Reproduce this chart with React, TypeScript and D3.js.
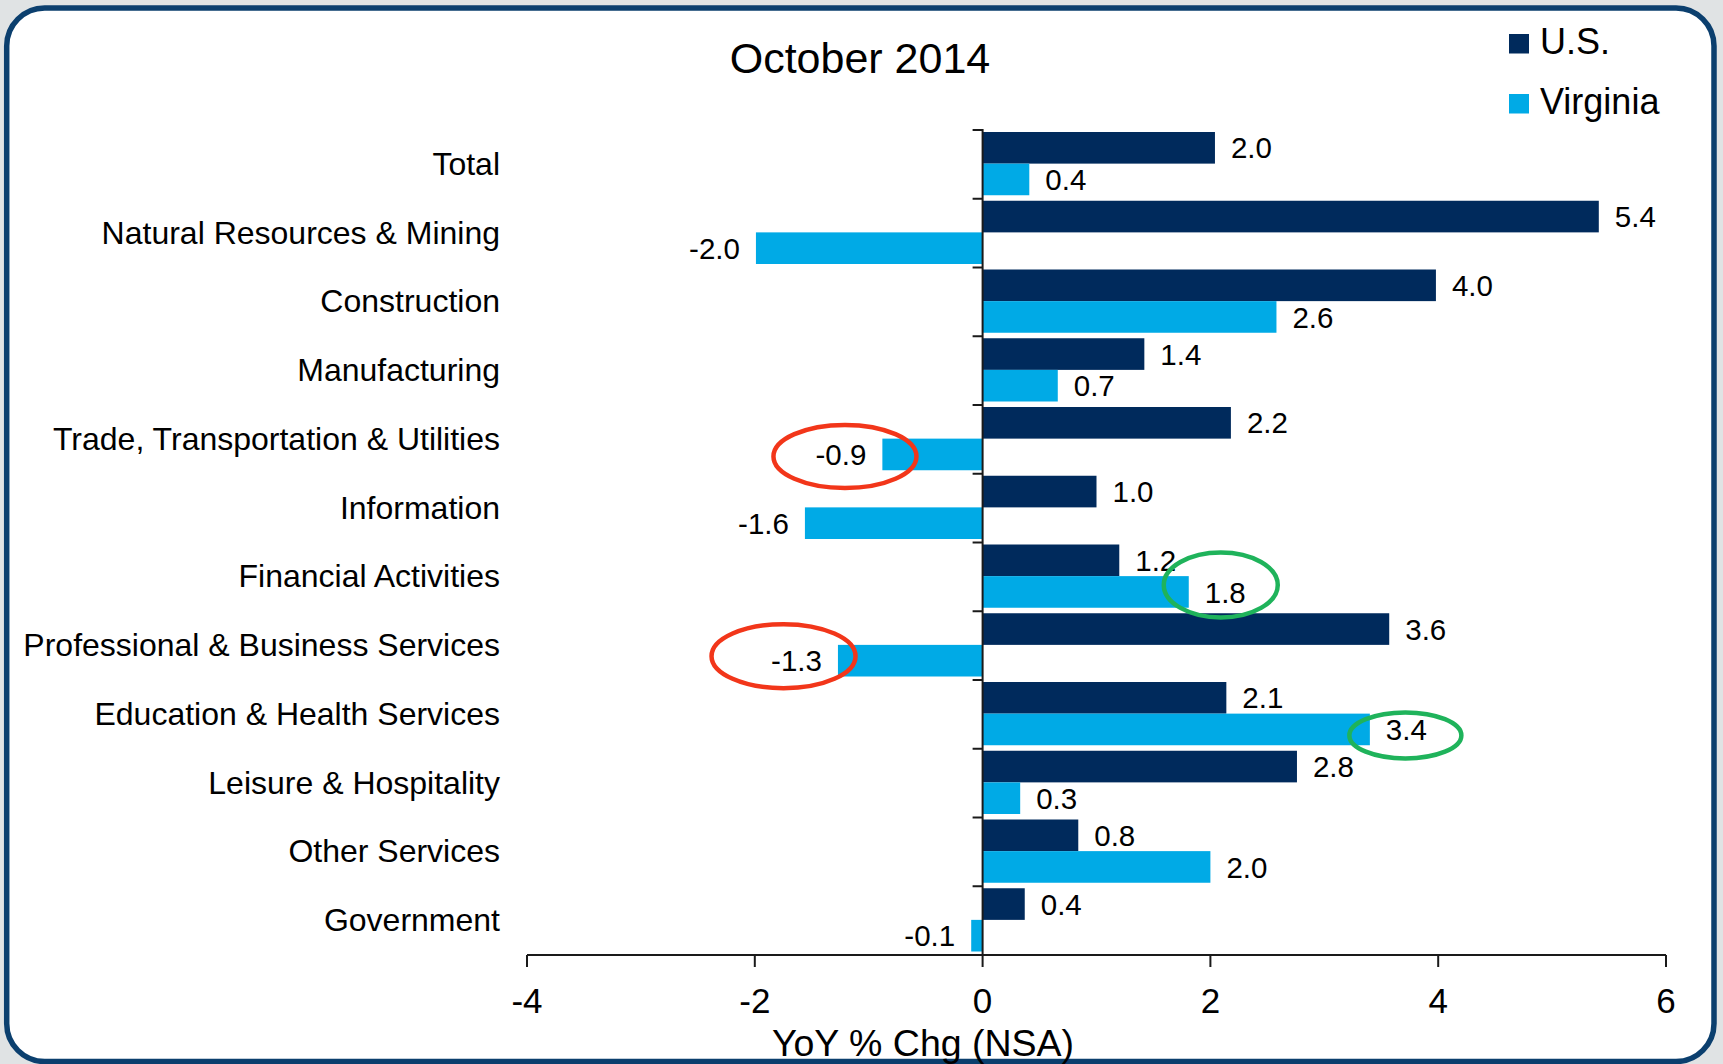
import React from "react";
import * as d3 from "d3";

const categories = [
  "Total",
  "Natural Resources & Mining",
  "Construction",
  "Manufacturing",
  "Trade, Transportation & Utilities",
  "Information",
  "Financial Activities",
  "Professional & Business Services",
  "Education & Health Services",
  "Leisure & Hospitality",
  "Other Services",
  "Government",
];
const usValues = [2.04, 5.41, 3.98, 1.42, 2.18, 1.0, 1.2, 3.57, 2.14, 2.76, 0.84, 0.37];
const vaValues = [0.41, -1.99, 2.58, 0.66, -0.88, -1.56, 1.81, -1.27, 3.4, 0.33, 2.0, -0.1];
const seriesNames = ["U.S.", "Virginia"];
const seriesColors = ["#002a5c", "#00aae6"];
const xTicks = [-4, -2, 0, 2, 4, 6];
const title = "October 2014";
const xTitle = "YoY % Chg (NSA)";

// annotation ellipses around value labels
const annotations = [
  { cat: 4, ser: 1, color: "#f2361a", dx: 4, dy: 2, rx: 71.5, ry: 31.5 },
  { cat: 7, ser: 1, color: "#f2361a", dx: -13, dy: -4.5, rx: 72, ry: 32 },
  { cat: 6, ser: 1, color: "#1fb35b", dx: -4.5, dy: -7, rx: 57, ry: 32.5 },
  { cat: 8, ser: 1, color: "#1fb35b", dx: -1, dy: 6, rx: 56, ry: 23 },
];

const W = 1723;
const H = 1064;
const FONT = "'Liberation Sans', Arial, Helvetica, sans-serif";

export default function App() {
  const x = d3.scaleLinear().domain([-4, 6]).range([527, 1666]);
  const y = d3.scaleBand<string>().domain(categories).range([130, 955]).padding(0);
  const inner = d3.scaleBand<number>().domain([0, 1]).range([2, y.bandwidth() - 3.5]).padding(0);
  const f1 = d3.format(".1f");
  const fmt = (v: number) => f1(v).replace("\u2212", "-");
  const series = [usValues, vaValues];
  const valFs = 29.5;
  const gap = 16;
  const axisY = 955;
  const x0 = x(0);

  const labelInfo = (ci: number, si: number) => {
    const v = series[si][ci];
    const text = fmt(v);
    const yc = (y(categories[ci]) as number) + (inner(si) as number) + inner.bandwidth() / 2;
    const xEnd = x(v);
    const w =
      text.length * 0.556 * valFs -
      (text.includes(".") ? 0.278 * valFs : 0) +
      (text.startsWith("-") ? (0.333 - 0.556) * valFs : 0);
    const cx = v >= 0 ? xEnd + gap + w / 2 : xEnd - gap - w / 2;
    return { text, yc, xEnd, cx, v };
  };

  return (
    <svg
      width={W}
      height={H}
      style={{ position: "absolute", left: 0, top: 0, display: "block" }}
      fontFamily={FONT}
    >
      <rect x={0} y={0} width={W} height={H} fill="#e0e3e4" />
      <rect x={6.7} y={8} width={1707.3} height={1053.5} rx={38} ry={38} fill="#ffffff" stroke="#0b3f6e" strokeWidth={5.5} />

      {/* title */}
      <text x={860} y={73} fontSize={43} textAnchor="middle" fill="#000">{title}</text>

      {/* legend */}
      {seriesNames.map((n, i) => (
        <g key={n}>
          <rect x={1509} y={34 + i * 60} width={20} height={19.5} fill={seriesColors[i]} />
          <text x={1540} y={54 + i * 60} fontSize={36} fill="#000">{n}</text>
        </g>
      ))}

      {/* bars */}
      {categories.map((c, ci) =>
        series.map((s, si) => {
          const v = s[ci];
          const by = (y(c) as number) + (inner(si) as number);
          return (
            <rect
              key={c + si}
              x={Math.min(x(v), x0)}
              y={by}
              width={Math.abs(x(v) - x0)}
              height={inner.bandwidth()}
              fill={seriesColors[si]}
            />
          );
        })
      )}

      {/* value labels */}
      {categories.map((c, ci) =>
        series.map((s, si) => {
          const info = labelInfo(ci, si);
          return (
            <text
              key={"l" + c + si}
              x={info.v >= 0 ? info.xEnd + gap : info.xEnd - gap}
              y={info.yc}
              dy="0.36em"
              fontSize={valFs}
              textAnchor={info.v >= 0 ? "start" : "end"}
              fill="#000"
            >
              {info.text}
            </text>
          );
        })
      )}

      {/* category labels */}
      {categories.map((c) => (
        <text
          key={"c" + c}
          x={500}
          y={(y(c) as number) + y.bandwidth() / 2}
          dy="0.33em"
          fontSize={32}
          textAnchor="end"
          fill="#000"
        >
          {c}
        </text>
      ))}

      {/* vertical axis at zero */}
      <line x1={x0} x2={x0} y1={129} y2={axisY} stroke="#1a1a1a" strokeWidth={2} />
      {[...categories.map((c) => y(c) as number), 955].map((ty, i) => (
        <line key={"yt" + i} x1={x0 - 10} x2={x0} y1={ty} y2={ty} stroke="#1a1a1a" strokeWidth={2} />
      ))}

      {/* x axis */}
      <line x1={x(-4)} x2={x(6)} y1={axisY} y2={axisY} stroke="#1a1a1a" strokeWidth={2} />
      {xTicks.map((t) => (
        <g key={"xt" + t}>
          <line x1={x(t)} x2={x(t)} y1={axisY} y2={axisY + 12} stroke="#1a1a1a" strokeWidth={2} />
          <text x={x(t)} y={1013} fontSize={35} textAnchor="middle" fill="#000">{String(t)}</text>
        </g>
      ))}
      <text x={923} y={1056} fontSize={37.5} textAnchor="middle" fill="#000">{xTitle}</text>

      {/* annotation ellipses */}
      {annotations.map((a, i) => {
        const info = labelInfo(a.cat, a.ser);
        return (
          <ellipse
            key={"e" + i}
            cx={info.cx + a.dx}
            cy={info.yc + a.dy}
            rx={a.rx}
            ry={a.ry}
            fill="none"
            stroke={a.color}
            strokeWidth={4.5}
          />
        );
      })}
    </svg>
  );
}
